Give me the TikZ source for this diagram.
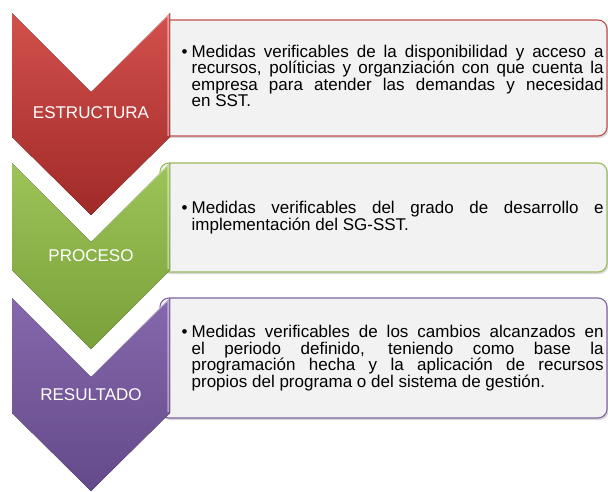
\documentclass[tikz,border=0pt]{standalone}
\usepackage{fontspec}
\setmainfont{Liberation Sans}
\usetikzlibrary{positioning, shadows}

\definecolor{boxgray}{RGB}{242,242,242}
\definecolor{estrline}{RGB}{192,80,77}
\definecolor{estrtop}{RGB}{210,80,76}
\definecolor{estrbot}{RGB}{160,42,40}
\definecolor{procline}{RGB}{155,187,89}
\definecolor{proctop}{RGB}{156,196,88}
\definecolor{procbot}{RGB}{122,160,58}
\definecolor{resuline}{RGB}{128,100,162}
\definecolor{resutop}{RGB}{134,104,172}
\definecolor{resubot}{RGB}{100,74,138}

\begin{document}
\begin{tikzpicture}[
    x=1pt, y=-1pt,
    infobox/.style={rectangle, draw=#1, line width=1.1pt, fill=boxgray, rounded corners=9pt, minimum width=447pt, inner sep=0pt, drop shadow={opacity=0.3, shadow xshift=1.5pt, shadow yshift=-2pt}},
    chev/.style={top color=#1top, bottom color=#1bot, draw=none},
    chevhl/.style={draw=white, opacity=0.45, line width=1.5pt},
    chevlbl/.style={text=white, font=\fontsize{17}{19.5}\selectfont, inner sep=0pt},
    bodytxt/.style={text width=412pt, align=justify, inner sep=0pt, font=\fontsize{17}{16.5}\selectfont},
]
\useasboundingbox (0,0) rectangle (608,491);
\fill[white] (0,0) rectangle (608,491);

% ========== TEXT BOXES ==========
\node[infobox=estrline, minimum height=116pt] at (383.5,78) (estrbox) {};
\node[infobox=procline, minimum height=109pt] at (383.5,217.5) (procbox) {};
\node[infobox=resuline, minimum height=120pt] at (383.5,358) (resubox) {};

\node[bodytxt, right=32pt of estrbox.west, yshift=2pt] (estrtxt) {\llap{\textbullet\hskip 4pt}Medidas verificables de la disponibilidad y acceso a\linebreak recursos, políticias y organziación con que cuenta la\linebreak empresa para atender las demandas y necesidad\linebreak en SST.};
\node[bodytxt, right=32pt of procbox.west] (proctxt) {\llap{\textbullet\hskip 4pt}Medidas verificables del grado de desarrollo e\linebreak implementación del SG-SST.};
\node[bodytxt, right=32pt of resubox.west] (resutxt) {\llap{\textbullet\hskip 4pt}Medidas verificables de los cambios alcanzados en\linebreak el periodo definido, teniendo como base la\linebreak programación hecha y la aplicación de recursos\linebreak propios del programa o del sistema de gestión.};

% ========== CHEVRONS ==========
\fill[chev=estr] (12,13) -- (91,92) -- (170,13) -- (170,137) -- (91,215) -- (12,137) -- cycle;
\draw[chevhl] (92,90) -- (168,15) -- (168,136);
\node[chevlbl] at (91,113) (estrlbl) {ESTRUCTURA};

\fill[chev=proc] (12,163) -- (91,242) -- (170,163) -- (170,270) -- (91,349) -- (12,270) -- cycle;
\draw[chevhl] (92,240) -- (168,165) -- (168,269);
\node[chevlbl] at (91,256) (proclbl) {PROCESO};

\fill[chev=resu] (12,298) -- (91,377) -- (170,298) -- (170,413) -- (91,491) -- (12,413) -- cycle;
\draw[chevhl] (92,375) -- (168,300) -- (168,412);
\node[chevlbl] at (91,395) (resulbl) {RESULTADO};

\end{tikzpicture}
\end{document}
